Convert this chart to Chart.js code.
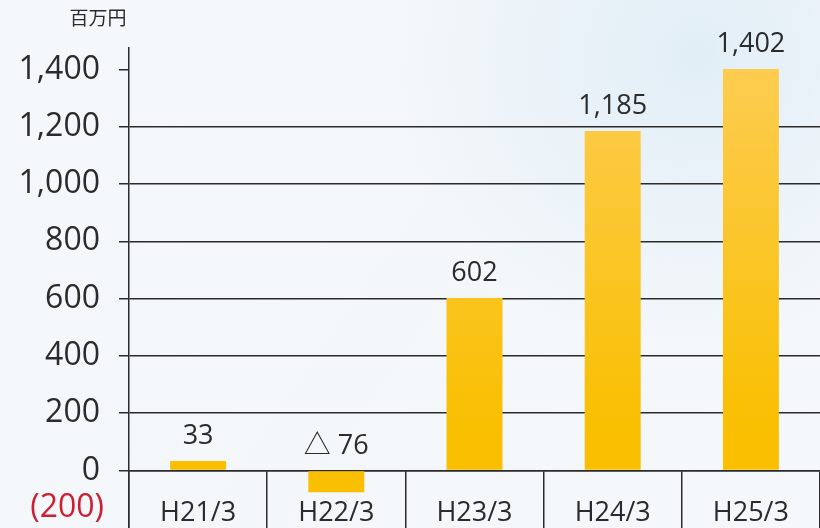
<!DOCTYPE html>
<html><head><meta charset="utf-8">
<script src="https://cdn.jsdelivr.net/npm/chart.js@4"></script>
<style>
html,body{margin:0;padding:0;background:#f4f7fa;overflow:hidden;}
#wrap{width:820px;height:528px;position:relative;overflow:hidden;}
</style></head>
<body><div id="wrap"><canvas id="c" width="820" height="566"></canvas></div>
<script>
const categories = ['H21/3','H22/3','H23/3','H24/3','H25/3'];
const values = [33, -76, 602, 1185, 1402];
const unitLabel = '百万円';
const yMin = -200, yMax = 1475, yStep = 200;

const FONT = "'Open Sans','Noto Sans CJK JP',sans-serif";
const INK = '#2b2b2b';

const bgPlugin = {
  id:'bg',
  beforeDraw(chart){
    const {ctx,width,height} = chart;
    const g = ctx.createLinearGradient(0,0,width,height);
    g.addColorStop(0,'#f5f8fb');
    g.addColorStop(0.5,'#f3f7fa');
    g.addColorStop(1,'#f5f8fb');
    ctx.save(); ctx.fillStyle=g; ctx.fillRect(0,0,width,height);
    const r = ctx.createRadialGradient(width*0.85,height*0.1,10,width*0.85,height*0.1,300);
    r.addColorStop(0,'rgba(222,236,246,0.8)');
    r.addColorStop(1,'rgba(222,236,246,0)');
    ctx.fillStyle=r; ctx.fillRect(0,0,width,height);
    ctx.restore();
  }
};

const labelPlugin = {
  id:'labels',
  afterDatasetsDraw(chart){
    const {ctx} = chart;
    const y = chart.scales.y;
    const meta = chart.getDatasetMeta(0);
    ctx.save();
    ctx.font = "27px " + FONT;
    ctx.fillStyle = INK;
    ctx.textAlign='center'; ctx.textBaseline='alphabetic';
    meta.data.forEach((bar,i)=>{
      const v = values[i];
      const txt = v < 0 ? '△ ' + Math.abs(v).toLocaleString('en-US') : v.toLocaleString('en-US');
      ctx.fillText(txt, bar.x, y.getPixelForValue(Math.max(v,0)) - 17);
    });
    // unit label
    ctx.font = "19px " + FONT;
    ctx.textAlign='center'; ctx.textBaseline='middle';
    ctx.fillText(unitLabel, y.right - 31, 20);
    // negative tick label (cut off by the frame in the original)
    ctx.font = "32px " + FONT;
    ctx.fillStyle = '#cc1f34';
    ctx.textAlign='right';
    ctx.textBaseline='middle';
    ctx.fillText('(' + Math.abs(yMin) + ')', y.right - 25, y.getPixelForValue(yMin) - 20);
    ctx.restore();
  }
};

const ctx = document.getElementById('c').getContext('2d');
new Chart(ctx, {
  type:'bar',
  data:{ labels:categories, datasets:[{
    data:values,
    backgroundColor(c){
      const a = c.chart.chartArea;
      if(!a) return '#f9be00';
      const g = c.chart.ctx.createLinearGradient(0,a.top,0,a.bottom);
      g.addColorStop(0,'#fdcd55');
      g.addColorStop(0.8,'#f9bf00');
      g.addColorStop(1,'#f9bf00');
      return g;
    },
    borderWidth:0,
    barPercentage:0.405,
    categoryPercentage:1
  }]},
  options:{
    responsive:false, animation:false,
    layout:{padding:{top:48,left:0,right:0,bottom:0}},
    plugins:{legend:{display:false}, tooltip:{enabled:false}},
    scales:{
      x:{
        position:{y:0},
        offset:true,
        grid:{offset:true, drawOnChartArea:false, drawTicks:true, tickLength:60, color:INK, lineWidth:1.5},
        border:{display:true,color:INK,width:1.5},
        ticks:{padding:-33, color:INK, font:{size:27, family:FONT}, maxRotation:0}
      },
      y:{
        min:yMin, max:yMax,
        afterFit(s){ s.width = 129; },
        grid:{
          color(c){ const v=c.tick && c.tick.value; return (v===1400||v===yMin)?'rgba(0,0,0,0)':INK; },
          tickColor(c){ const v=c.tick && c.tick.value; return v===yMin?'rgba(0,0,0,0)':INK; },
          lineWidth:1.5, tickLength:10
        },
        border:{display:true,color:INK,width:1.5},
        ticks:{
          stepSize:yStep, includeBounds:false, padding:19, color:INK,
          font:{size:32, family:FONT},
          callback(v){ return v < 0 ? '' : Number(v).toLocaleString('en-US'); }
        }
      }
    }
  },
  plugins:[bgPlugin,labelPlugin]
});
</script></body></html>
